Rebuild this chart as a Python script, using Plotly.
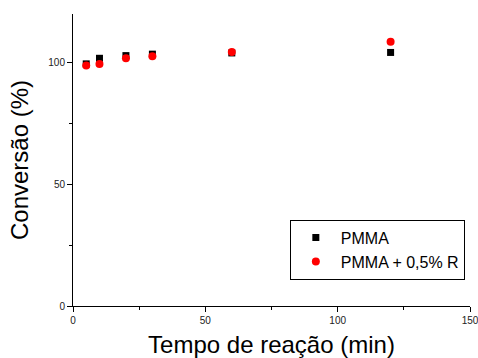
import plotly.graph_objects as go

tempo = [5, 10, 20, 30, 60, 120]
pmma = [99.5, 101.8, 102.9, 103.5, 104.0, 104.2]
pmma_r = [98.8, 99.5, 101.8, 102.6, 104.4, 108.6]

FONT = "Liberation Sans, Arial"

fig = go.Figure()
fig.add_trace(go.Scatter(x=tempo, y=pmma, mode="markers", name="PMMA",
                         marker=dict(symbol="square", size=7, color="black")))
fig.add_trace(go.Scatter(x=tempo, y=pmma_r, mode="markers", name="PMMA + 0,5% R",
                         marker=dict(symbol="circle", size=8, color="#ff0000")))

axis_common = dict(
    showgrid=False, zeroline=False, showline=True, linecolor="black", linewidth=1,
    ticks="outside", ticklen=5, tickwidth=1, tickcolor="black",
    tickfont=dict(family=FONT, size=10, color="#222222"),
    ticklabeloverflow="allow", automargin=False,
    minor=dict(ticks="outside", ticklen=3, tickcolor="black", dtick=25),
)

fig.update_xaxes(range=[0, 150], tickvals=[0, 50, 100, 150], **axis_common,
                 title=dict(text="Tempo de reação (min)", standoff=13,
                            font=dict(family=FONT, size=24, color="black")))
fig.update_yaxes(range=[0, 120], tickvals=[0, 50, 100], **axis_common,
                 title=dict(text="Conversão (%)", standoff=12,
                            font=dict(family=FONT, size=24, color="black")))

fig.update_layout(
    width=478, height=358,
    margin=dict(l=73, r=8, t=14, b=52),
    plot_bgcolor="white", paper_bgcolor="white",
    legend=dict(x=0.987, y=0.09, xanchor="right", yanchor="bottom",
                bordercolor="black", borderwidth=1, bgcolor="white",
                font=dict(family=FONT, size=16, color="black"),
                tracegroupgap=0, itemsizing="trace", itemwidth=40),
)

fig.write_html("out.html")
